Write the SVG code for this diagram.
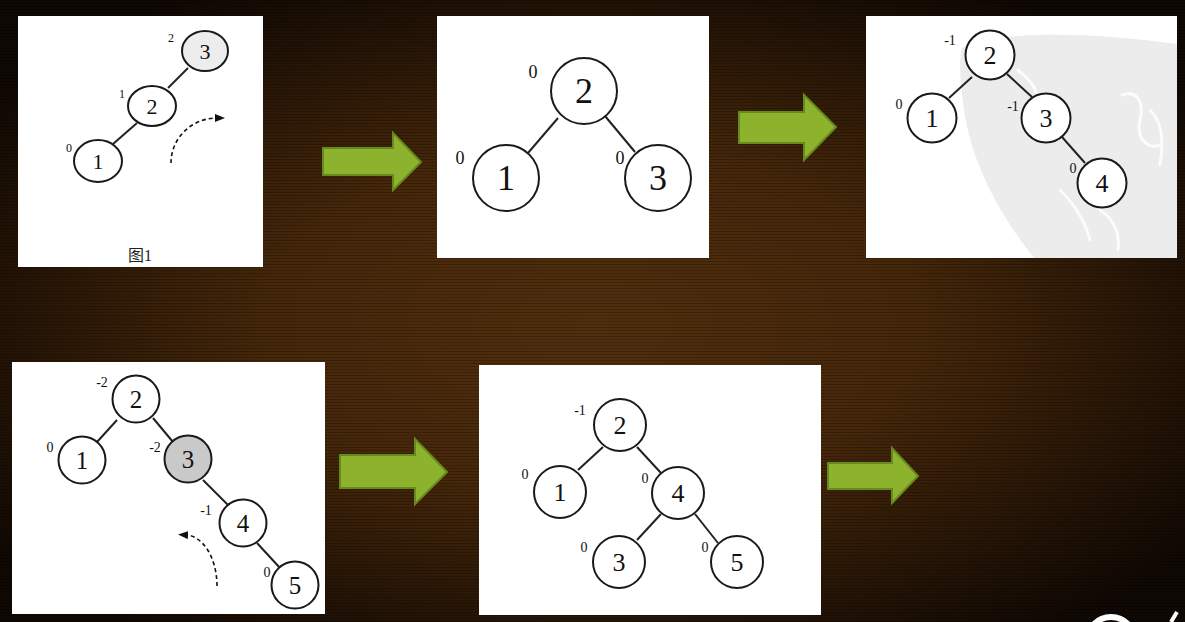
<svg xmlns="http://www.w3.org/2000/svg" width="1185" height="622" viewBox="0 0 1185 622">
<defs>
  <radialGradient id="bg" cx="0.5" cy="0.52" r="0.62">
    <stop offset="0" stop-color="#522f0e"/>
    <stop offset="0.45" stop-color="#45270a"/>
    <stop offset="1" stop-color="#100803"/>
  </radialGradient>
  <pattern id="stripes" width="8" height="3" patternUnits="userSpaceOnUse">
    <rect width="8" height="1" fill="#000" fill-opacity="0.22"/>
  </pattern>
  <marker id="dhead" viewBox="0 0 10 8" refX="2" refY="4" markerWidth="10" markerHeight="8" markerUnits="userSpaceOnUse" orient="auto">
    <path d="M0,0 L10,4 L0,8 Z" fill="#111"/>
  </marker>
</defs>
<style>
  .panel { fill: #ffffff; }
  .node { fill: #ffffff; stroke: #1a1a1a; stroke-width: 2; }
  .edge { stroke: #222; stroke-width: 2; fill: none; }
  .num { font-family: "Liberation Serif", "Times New Roman", serif; fill: #111; text-anchor: middle; dominant-baseline: central; }
  .bf { font-family: "Liberation Serif", "Times New Roman", serif; fill: #111; text-anchor: middle; dominant-baseline: central; }
  .green { fill: #8db22e; stroke: #688a1c; stroke-width: 2; stroke-linejoin: miter; }
  .dash { fill: none; stroke: #111; stroke-width: 1.6; stroke-dasharray: 4 3; }
</style>

<rect width="1185" height="622" fill="url(#bg)"/>
<rect width="1185" height="622" fill="url(#stripes)"/>

<!-- corner decoration -->
<g id="corner">
  <circle cx="1111" cy="641" r="24" fill="none" stroke="#ffffff" stroke-width="6"/>
  <path d="M1177,612 L1171,622" stroke="#ffffff" stroke-width="4"/>
</g>

<!-- Panel 1 -->
<g id="panel1">
  <rect class="panel" x="18" y="16" width="245" height="251"/>
  <g class="connectors">
    <line class="edge" x1="188" y1="68" x2="168" y2="88"/>
    <line class="edge" x1="137" y1="123" x2="113" y2="144"/>
    <path class="dash" d="M171,163 A46,45 0 0 1 217,118" marker-end="url(#dhead)"/>
  </g>
  <g id="p1-n3"><ellipse class="node" cx="205" cy="51" rx="23" ry="20" style="fill:#ededed"/><text class="num" x="205" y="51" font-size="22">3</text><text class="bf" x="171" y="38" font-size="12">2</text></g>
  <g id="p1-n2"><ellipse class="node" cx="152" cy="106" rx="24" ry="20"/><text class="num" x="152" y="106" font-size="22">2</text><text class="bf" x="122" y="94" font-size="12">1</text></g>
  <g id="p1-n1"><ellipse class="node" cx="98" cy="161" rx="24" ry="21"/><text class="num" x="98" y="161" font-size="22">1</text><text class="bf" x="69" y="148" font-size="12">0</text></g>
  <text x="140" y="255" font-size="16" font-family="Liberation Serif, Noto Sans CJK SC, serif" fill="#222" text-anchor="middle" dominant-baseline="central">图1</text>
</g>

<!-- Panel 2 -->
<g id="panel2">
  <rect class="panel" x="437" y="16" width="272" height="242"/>
  <g class="connectors">
    <line class="edge" x1="558" y1="118" x2="528" y2="153"/>
    <line class="edge" x1="605" y1="116" x2="635" y2="152"/>
  </g>
  <g id="p2-n2"><circle class="node" cx="584" cy="91" r="33"/><text class="num" x="584" y="91" font-size="36">2</text><text class="bf" x="533" y="72" font-size="18">0</text></g>
  <g id="p2-n1"><circle class="node" cx="506" cy="178" r="33"/><text class="num" x="506" y="178" font-size="36">1</text><text class="bf" x="460" y="158" font-size="18">0</text></g>
  <g id="p2-n3"><circle class="node" cx="658" cy="178" r="33"/><text class="num" x="658" y="178" font-size="36">3</text><text class="bf" x="620" y="158" font-size="18">0</text></g>
</g>

<!-- Panel 3 -->
<g id="panel3">
  <rect class="panel" x="866" y="16" width="311" height="242"/>
  <path d="M962,48 C990,32 1080,30 1177,44 L1177,258 L1034,258 C1000,215 972,165 964,110 C961,85 958,60 962,48 Z" fill="#ececec"/>
  <g fill="none" stroke="#ffffff" stroke-width="3" stroke-linecap="round" opacity="0.85">
    <path d="M1018,70 C1030,80 1040,90 1036,104"/>
    <path d="M1122,95 C1135,90 1145,100 1140,120 C1135,140 1150,150 1160,145"/>
    <path d="M1150,110 C1160,120 1165,135 1160,165"/>
    <path d="M1060,190 C1075,205 1085,220 1090,240"/>
    <path d="M1100,210 C1115,220 1120,235 1118,250"/>
  </g>
  <g class="connectors">
    <line class="edge" x1="972" y1="77" x2="949" y2="98"/>
    <line class="edge" x1="1007" y1="74" x2="1032" y2="97"/>
    <line class="edge" x1="1062" y1="137" x2="1085" y2="163"/>
  </g>
  <g id="p3-n2"><circle class="node" cx="990" cy="55" r="24.5"/><text class="num" x="990" y="55" font-size="26">2</text><text class="bf" x="950" y="40" font-size="14">-1</text></g>
  <g id="p3-n1"><circle class="node" cx="932" cy="118" r="24.5"/><text class="num" x="932" y="118" font-size="26">1</text><text class="bf" x="899" y="104" font-size="14">0</text></g>
  <g id="p3-n3"><circle class="node" cx="1046" cy="118" r="24.5"/><text class="num" x="1046" y="118" font-size="26">3</text><text class="bf" x="1013" y="106" font-size="14">-1</text></g>
  <g id="p3-n4"><circle class="node" cx="1102" cy="183" r="24.5"/><text class="num" x="1102" y="183" font-size="26">4</text><text class="bf" x="1073" y="168" font-size="14">0</text></g>
</g>

<!-- Panel 4 -->
<g id="panel4">
  <rect class="panel" x="12" y="362" width="313" height="252"/>
  <g class="connectors">
    <line class="edge" x1="117" y1="420" x2="97" y2="442"/>
    <line class="edge" x1="153" y1="418" x2="173" y2="442"/>
    <line class="edge" x1="203" y1="480" x2="230" y2="507"/>
    <line class="edge" x1="257" y1="543" x2="280" y2="568"/>
    <path class="dash" d="M217,586 A32,51 0 0 0 186,535" marker-end="url(#dhead)"/>
  </g>
  <g id="p4-n2"><circle class="node" cx="136" cy="399" r="23.5"/><text class="num" x="136" y="399" font-size="25">2</text><text class="bf" x="102" y="382" font-size="14">-2</text></g>
  <g id="p4-n1"><circle class="node" cx="82" cy="460" r="23.5"/><text class="num" x="82" y="460" font-size="25">1</text><text class="bf" x="50" y="447" font-size="14">0</text></g>
  <g id="p4-n3"><circle class="node" cx="188" cy="459" r="23.5" style="fill:#c9c9c9"/><text class="num" x="188" y="459" font-size="25">3</text><text class="bf" x="155" y="447" font-size="14">-2</text></g>
  <g id="p4-n4"><circle class="node" cx="243" cy="523" r="23.5"/><text class="num" x="243" y="523" font-size="25">4</text><text class="bf" x="206" y="510" font-size="14">-1</text></g>
  <g id="p4-n5"><circle class="node" cx="295" cy="585" r="23.5"/><text class="num" x="295" y="585" font-size="25">5</text><text class="bf" x="267" y="572" font-size="14">0</text></g>
</g>

<!-- Panel 5 -->
<g id="panel5">
  <rect class="panel" x="479" y="365" width="342" height="250"/>
  <g class="connectors">
    <line class="edge" x1="603" y1="447" x2="578" y2="470"/>
    <line class="edge" x1="637" y1="447" x2="661" y2="473"/>
    <line class="edge" x1="661" y1="514" x2="637" y2="540"/>
    <line class="edge" x1="695" y1="514" x2="718" y2="543"/>
  </g>
  <g id="p5-n2"><circle class="node" cx="620" cy="425" r="26"/><text class="num" x="620" y="425" font-size="26">2</text><text class="bf" x="580" y="410" font-size="14">-1</text></g>
  <g id="p5-n1"><circle class="node" cx="560" cy="492" r="26"/><text class="num" x="560" y="492" font-size="26">1</text><text class="bf" x="525" y="474" font-size="14">0</text></g>
  <g id="p5-n4"><circle class="node" cx="678" cy="493" r="26"/><text class="num" x="678" y="493" font-size="26">4</text><text class="bf" x="645" y="478" font-size="14">0</text></g>
  <g id="p5-n3"><circle class="node" cx="619" cy="562" r="26"/><text class="num" x="619" y="562" font-size="26">3</text><text class="bf" x="584" y="547" font-size="14">0</text></g>
  <g id="p5-n5"><circle class="node" cx="737" cy="562" r="26"/><text class="num" x="737" y="562" font-size="26">5</text><text class="bf" x="705" y="547" font-size="14">0</text></g>
</g>

<!-- Green arrows -->
<g id="arrow1"><path class="green" d="M323,148 L393,148 L393,133 L421,162 L393,190 L393,175 L323,175 Z"/></g>
<g id="arrow2"><path class="green" d="M739,112 L804,112 L804,95 L836,127 L804,160 L804,143 L739,143 Z"/></g>
<g id="arrow3"><path class="green" d="M340,455 L415,455 L415,439 L447,472 L415,504 L415,488 L340,488 Z"/></g>
<g id="arrow4"><path class="green" d="M828,463 L892,463 L892,448 L918,476 L892,503 L892,489 L828,489 Z"/></g>
</svg>
